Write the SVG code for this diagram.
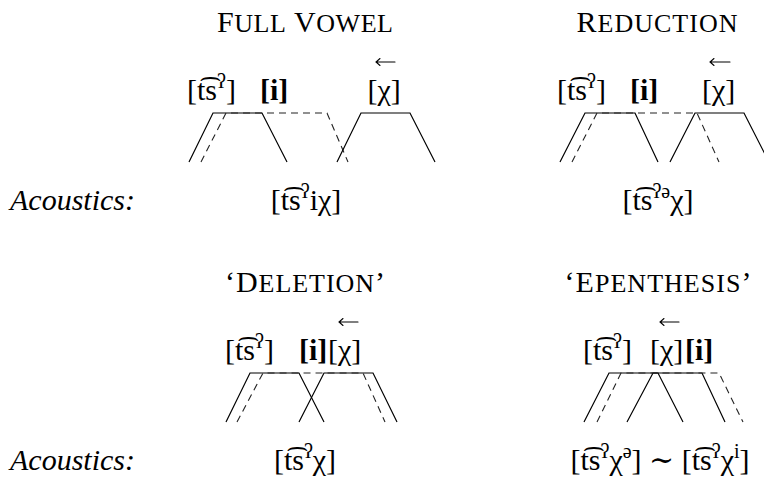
<svg xmlns="http://www.w3.org/2000/svg" width="764" height="477" viewBox="0 0 764 477">
<style>
.t{font-family:"Liberation Serif","DejaVu Serif",serif;font-size:30px;fill:#000}
.b{font-weight:bold}
.i{font-style:italic}
.sc{font-size:26px}
.sp{font-size:20px}
.s{fill:none;stroke:#000;stroke-width:1.2;stroke-linejoin:miter}
.d{fill:none;stroke:#222;stroke-width:1.1;stroke-dasharray:7 5}
.ar{fill:none;stroke:#000;stroke-width:1.1;stroke-linecap:round}
</style>
<rect width="764" height="477" fill="#fff"/>

<g id="full-vowel">
  <text class="t" x="305" y="32" text-anchor="middle" textLength="176" lengthAdjust="spacing">F<tspan class="sc">ULL</tspan> V<tspan class="sc">OWEL</tspan></text>
  <g id="fv-labels">
    <text class="t" x="187" y="100">[t͡s<tspan class="sp" dy="-12">ʔ</tspan><tspan dy="12">]</tspan></text>
    <text class="t b" x="260" y="100">[i]</text>
    <text class="t" x="367.5" y="100">[χ]</text>
    <path class="ar" d="M395,62 H376 M380,58.5 L376,62 L380,65.5"/>
  </g>
  <g id="fv-gestures">
    <polyline class="s" points="189,162 213,113 262,113 287,162"/>
    <polyline class="d" points="201,162 226,113 327,113 348,162"/>
    <polyline class="s" points="337,162 361,113 410,113 435,162"/>
  </g>
  <text id="fv-acoustics" class="t" x="306" y="210" text-anchor="middle">[t͡s<tspan class="sp" dy="-12">ʔ</tspan><tspan dy="12">iχ]</tspan></text>
</g>

<g id="reduction">
  <text class="t" x="657" y="32" text-anchor="middle" textLength="161" lengthAdjust="spacing">R<tspan class="sc">EDUCTION</tspan></text>
  <g id="red-labels">
    <text class="t" x="557" y="100">[t͡s<tspan class="sp" dy="-12">ʔ</tspan><tspan dy="12">]</tspan></text>
    <text class="t b" x="630" y="100">[i]</text>
    <text class="t" x="702" y="100">[χ]</text>
    <path class="ar" d="M730,62 H710 M714,58.5 L710,62 L714,65.5"/>
  </g>
  <g id="red-gestures">
    <polyline class="s" points="560,162 585,113 635,113 658,162"/>
    <polyline class="d" points="572,162 597,113 697,113 719,162"/>
    <polyline class="s" points="670,162 695,113 744,113 769,162"/>
  </g>
  <text id="red-acoustics" class="t" x="658" y="210" text-anchor="middle">[t͡s<tspan class="sp" dy="-12">ʔə</tspan><tspan dy="12">χ]</tspan></text>
</g>

<g id="deletion">
  <text class="t" x="305" y="292" text-anchor="middle" textLength="160" lengthAdjust="spacing">‘D<tspan class="sc">ELETION</tspan>’</text>
  <g id="del-labels">
    <text class="t" x="225" y="360">[t͡s<tspan class="sp" dy="-12">ʔ</tspan><tspan dy="12">]</tspan></text>
    <text class="t b" x="299" y="360">[i]</text>
    <text class="t" x="328" y="360">[χ]</text>
    <path class="ar" d="M358,322 H339 M343,318.5 L339,322 L343,325.5"/>
  </g>
  <g id="del-gestures">
    <polyline class="s" points="226,422 250,373 299,373 324,422"/>
    <polyline class="s" points="299,422 324,373 373,373 397,422"/>
    <polyline class="d" points="237,422 263,373 363,373 385,422"/>
  </g>
  <text id="del-acoustics" class="t" x="305" y="470" text-anchor="middle">[t͡s<tspan class="sp" dy="-12">ʔ</tspan><tspan dy="12">χ]</tspan></text>
</g>

<g id="epenthesis">
  <text class="t" x="658" y="292" text-anchor="middle" textLength="187" lengthAdjust="spacing">‘E<tspan class="sc">PENTHESIS</tspan>’</text>
  <g id="ep-labels">
    <text class="t" x="583" y="360">[t͡s<tspan class="sp" dy="-12">ʔ</tspan><tspan dy="12">]</tspan></text>
    <text class="t" x="650" y="360">[χ]</text>
    <text class="t b" x="685" y="360">[i]</text>
    <path class="ar" d="M679,322 H660 M664,318.5 L660,322 L664,325.5"/>
  </g>
  <g id="ep-gestures">
    <polyline class="s" points="584,422 609,373 658,373 683,422"/>
    <polyline class="s" points="627,422 653,373 702,373 725,422"/>
    <polyline class="d" points="597,422 621,373 719,373 743,422"/>
  </g>
  <text id="ep-acoustics" class="t" x="660" y="470" text-anchor="middle">[t͡s<tspan class="sp" dy="-12">ʔ</tspan><tspan dy="12">χ</tspan><tspan class="sp" dy="-12">ə</tspan><tspan dy="12">] ∼ [t͡s</tspan><tspan class="sp" dy="-12">ʔ</tspan><tspan dy="12">χ</tspan><tspan class="sp" dy="-12">i</tspan><tspan dy="12">]</tspan></text>
</g>

<g id="row-labels">
  <text class="t i" x="10" y="210">Acoustics:</text>
  <text class="t i" x="10" y="470">Acoustics:</text>
</g>

<g id="connectors"></g>
</svg>
